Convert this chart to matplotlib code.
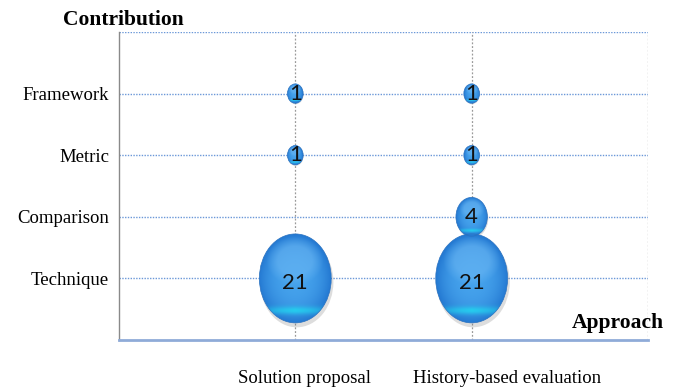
import numpy as np
import matplotlib
matplotlib.use('Agg')
import matplotlib.pyplot as plt
from matplotlib.patches import Ellipse
from matplotlib.colors import to_rgb

# data
approaches = ['Solution proposal', 'History-based evaluation']
contributions = ['Technique', 'Comparison', 'Metric', 'Framework']
solution_counts = [21, 0, 1, 1]
history_counts = [21, 4, 1, 1]

serif = ['Liberation Serif', 'DejaVu Serif']
sans = ['Lato', 'DejaVu Sans']

def bubble_img(n=200):
    u = np.linspace(-1, 1, n)
    uu, vv = np.meshgrid(u, u)          # vv = +1 at top (origin lower)
    r = np.sqrt(uu**2 + vv**2)
    c_mid = np.array(to_rgb('#45a2ec'))
    c_edge = np.array(to_rgb('#2479d2'))
    c_hi = np.array(to_rgb('#6db8f4'))
    c_cyan = np.array(to_rgb('#22d6f0'))
    w = np.clip(r, 0, 1)[..., None] ** 2.6
    img = c_mid * (1 - w) + c_edge * w
    # soft upper highlight
    hr = np.sqrt((uu / 0.8)**2 + ((vv - 0.4) / 0.55)**2)
    hw = np.clip((1 - hr) * 2.5, 0, 1)[..., None] * 0.55
    img = img * (1 - hw) + c_hi * hw
    # cyan band near bottom
    bw = np.exp(-((vv + 0.72) / 0.09)**2) * np.clip(1 - np.abs(uu) * 0.9, 0, 1) ** 0.6
    bw = (bw * 0.85)[..., None]
    img = img * (1 - bw) + c_cyan * bw
    return img

grad = bubble_img()

fig = plt.figure(figsize=(6.81, 3.90), dpi=100)
ax = fig.add_axes([0.1747, 0.1282, 0.9515 - 0.1747, 0.918 - 0.1282])

ax.set_xlim(0, 3)
ax.set_ylim(0, 5)

# grid
for yv in range(1, 6):
    ax.axhline(yv, color='#6b98d8', lw=1.0, ls=(0, (1, 1)), zorder=1)
for xv in range(1, 4):
    ax.axvline(xv, color='#9a9a9a', lw=0.9, ls=(0, (1.5, 1.5)), zorder=1)

for s in ['top', 'right']:
    ax.spines[s].set_visible(False)
ax.spines['left'].set_color('#8a8a8a')
ax.spines['left'].set_linewidth(1.0)
ax.spines['bottom'].set_color('#8fabd8')
ax.spines['bottom'].set_linewidth(2.0)

ypos = np.arange(1, len(contributions) + 1)
ax.set_yticks(ypos)
ax.set_yticklabels(contributions, family=serif, fontsize=13.5)
ax.tick_params(axis='y', length=0, pad=7)
ax.set_xticks([1, 2])
ax.set_xticklabels([])
ax.tick_params(axis='x', length=0)

# bubbles
wk, hk = 0.089, 0.315
for xi, counts in enumerate([solution_counts, history_counts], start=1):
    for yi, v in zip(ypos, counts):
        if v <= 0:
            continue
        w = wk * np.sqrt(v)
        h = hk * np.sqrt(v)
        sh = Ellipse((xi + w * 0.02, yi - h * 0.04), w * 1.02, h * 1.02,
                     facecolor='#666666', edgecolor='none', alpha=0.22, zorder=2)
        ax.add_patch(sh)
        el = Ellipse((xi, yi), w, h, facecolor='none', edgecolor='#2a72c0',
                     lw=0.5, zorder=4)
        ax.add_patch(el)
        im = ax.imshow(grad, origin='lower', aspect='auto', zorder=3,
                       extent=(xi - w / 2, xi + w / 2, yi - h / 2, yi + h / 2))
        im.set_clip_path(el)
        dy = -0.08 if v > 10 else 0
        ax.text(xi, yi + dy, str(v), ha='center', va='center', fontsize=16,
                family=sans, color='#111111', zorder=5)

ax.set_xlim(0, 3)
ax.set_ylim(0, 5)

# x category labels below axis
label_x = [1.05, 2.2]
for lx, name in zip(label_x, approaches):
    ax.text(lx, -0.62, name, ha='center', va='center', fontsize=13.5,
            family=serif, transform=ax.transData, clip_on=False)

fig.text(0.181, 0.948, 'Contribution', ha='center', va='center',
         fontsize=15.5, fontweight='bold', family=serif)
fig.text(0.975, 0.172, 'Approach', ha='right', va='center',
         fontsize=15.5, fontweight='bold', family=serif)

fig.savefig('out.png', dpi=100)
